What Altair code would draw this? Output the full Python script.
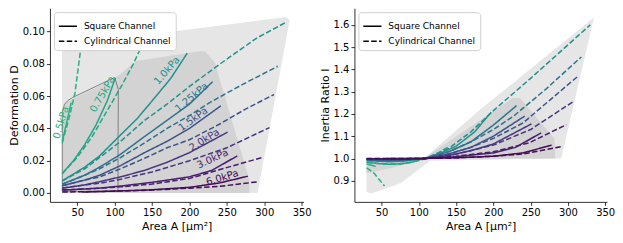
import altair as alt
import pandas as pd

# ---------------- data ----------------
PRESSURES = ["0.5kPa", "0.75kPa", "1.0kPa", "1.25kPa", "1.5kPa", "2.0kPa", "3.0kPa", "6.0kPa"]
COLORS = ["#2bb07f", "#22a785", "#21918c", "#2c728e", "#3b538b", "#463580", "#481d6f", "#440b56"]
CHANNELS = ["Square Channel", "Cylindrical Channel"]

# Square channel (solid): area A, deformation D, inertia ratio I
SQ_A = [
    [30, 34, 38, 42],
    [30, 45, 60, 75, 90, 101],
    [30, 60, 80, 108, 130, 150, 175, 197],
    [30, 60, 80, 108, 140, 170, 200, 231],
    [30, 60, 80, 108, 140, 170, 200, 242],
    [30, 60, 80, 108, 140, 170, 200, 251],
    [30, 60, 80, 108, 150, 200, 230, 264],
    [57, 80, 108, 150, 200, 240, 278],
]
SQ_D = [
    [0.032, 0.040, 0.048, 0.056],
    [0.012, 0.020, 0.030, 0.042, 0.057, 0.0714],
    [0.0075, 0.016, 0.023, 0.036, 0.046, 0.057, 0.071, 0.0866],
    [0.0055, 0.011, 0.016, 0.024, 0.035, 0.045, 0.055, 0.069],
    [0.0045, 0.008, 0.011, 0.017, 0.025, 0.032, 0.040, 0.054],
    [0.003, 0.005, 0.007, 0.010, 0.014, 0.019, 0.025, 0.0377],
    [0.0018, 0.0025, 0.003, 0.0043, 0.0066, 0.0100, 0.014, 0.023],
    [0.0006, 0.0009, 0.0013, 0.002, 0.0035, 0.0062, 0.0104],
]
SQ_I = [
    [0.975, 0.972, 0.968, 0.964],
    [0.983, 0.977, 0.974, 0.975, 0.983, 0.993],
    [0.990, 0.985, 0.988, 1.0, 1.025, 1.055, 1.12, 1.208],
    [0.993, 0.990, 0.992, 1.0, 1.03, 1.075, 1.15, 1.237],
    [0.995, 0.993, 0.995, 1.0, 1.02, 1.05, 1.10, 1.19],
    [0.997, 0.996, 0.997, 1.0, 1.013, 1.035, 1.065, 1.155],
    [0.999, 0.998, 0.999, 1.0, 1.008, 1.025, 1.05, 1.115],
    [1.0, 1.0, 1.0, 1.003, 1.01, 1.025, 1.06],
]

# Cylindrical channel (dashed)
CYL_A = [
    [30, 40, 47, 54],
    [30, 50, 70, 90, 110, 125, 140],
    [30, 60, 80, 108, 140, 170, 200, 250, 290, 330],
    [30, 60, 80, 108, 140, 170, 200, 227, 270, 318],
    [30, 60, 80, 108, 140, 170, 200, 240, 275, 313],
    [30, 60, 80, 108, 150, 200, 250, 307],
    [30, 60, 80, 108, 150, 200, 248, 298],
    [30, 60, 108, 150, 200, 240, 291],
]
CYL_D = [
    [0.031, 0.048, 0.062, 0.087],
    [0.012, 0.022, 0.035, 0.051, 0.067, 0.080, 0.095],
    [0.0075, 0.015, 0.022, 0.032, 0.045, 0.055, 0.066, 0.083, 0.096, 0.106],
    [0.0055, 0.011, 0.015, 0.022, 0.031, 0.040, 0.048, 0.056, 0.067, 0.0785],
    [0.0045, 0.008, 0.010, 0.015, 0.0215, 0.028, 0.033, 0.0426, 0.052, 0.061],
    [0.003, 0.005, 0.006, 0.0085, 0.013, 0.020, 0.028, 0.0405],
    [0.0018, 0.0025, 0.003, 0.0038, 0.0055, 0.009, 0.0155, 0.0221],
    [0.0006, 0.0008, 0.0012, 0.0018, 0.003, 0.0041, 0.0069],
]
CYL_I = [
    [0.958, 0.933, 0.904, 0.876],
    [0.983, 0.976, 0.975, 0.983, 1.0, 1.022, 1.053],
    [0.993, 0.990, 0.990, 1.0, 1.045, 1.12, 1.215, 1.36, 1.48, 1.60],
    [0.995, 0.993, 0.993, 1.0, 1.03, 1.075, 1.13, 1.19, 1.31, 1.456],
    [0.997, 0.995, 0.995, 1.0, 1.02, 1.05, 1.09, 1.16, 1.26, 1.368],
    [0.998, 0.997, 0.997, 1.0, 1.02, 1.06, 1.13, 1.255],
    [0.999, 0.998, 0.999, 1.0, 1.01, 1.03, 1.07, 1.152],
    [1.0, 1.0, 1.0, 1.003, 1.01, 1.02, 1.053],
]

# shaded regions (left panel: A vs D)
LEFT_LIGHT_A = [29.6, 29.6, 31, 34.5, 330, 334, 291, 29.6]
LEFT_LIGHT_D = [0.0, 0.0866, 0.0905, 0.0915, 0.109, 0.107, 0.0, 0.0]
LEFT_DARK_A = [29.6, 29.6, 35, 45, 100, 129, 216, 221, 234, 280, 280]
LEFT_DARK_D = [0.0, 0.050, 0.056, 0.0585, 0.071, 0.0817, 0.088, 0.0878, 0.0807, 0.0084, 0.0]
OUTLINE_A = [30, 30, 33, 37.5, 44, 100, 105, 104.5, 104.5, 30]
OUTLINE_D = [0.001, 0.050, 0.055, 0.0573, 0.0592, 0.0716, 0.064, 0.030, 0.001, 0.001]

# shaded regions (right panel: A vs I)
RIGHT_LIGHT_A = [29.7, 108, 181, 335, 291, 115, 76, 36, 29.7]
RIGHT_LIGHT_I = [1.003, 1.003, 1.216, 1.633, 1.0, 0.99, 0.89, 0.843, 0.851]
RIGHT_DARK_A = [29.7, 108, 226, 236, 282, 283, 110, 102, 60, 29.7]
RIGHT_DARK_I = [1.003, 1.003, 1.272, 1.27, 1.088, 1.0, 0.998, 0.989, 0.955, 0.933]

# in-line pressure labels (left panel)
LABEL_A = [28.5, 84, 170, 203, 205, 220, 231, 244]
LABEL_D = [0.0436, 0.0612, 0.0758, 0.0592, 0.0456, 0.0328, 0.0211, 0.0094]
LABEL_ANGLE = [287, 300, 311, 320, 324, 328, 335, 343]

X_TICKS = [50, 100, 150, 200, 250, 300, 350]
D_TICKS = [0.0, 0.02, 0.04, 0.06, 0.08, 0.10]
I_TICKS = [0.9, 1.0, 1.1, 1.2, 1.3, 1.4, 1.5, 1.6]

# ---------------- tables ----------------
rows = []
for k, p in enumerate(PRESSURES):
    for ch, As, Ds, Is in [(CHANNELS[0], SQ_A[k], SQ_D[k], SQ_I[k]),
                           (CHANNELS[1], CYL_A[k], CYL_D[k], CYL_I[k])]:
        for j, (a, d, i) in enumerate(zip(As, Ds, Is)):
            rows.append(dict(pressure=p, channel=ch, A=a, D=d, I=i, idx=j, key=p + "|" + ch))
curves = pd.DataFrame(rows)


def poly(As, Ys, col):
    return pd.DataFrame({"A": As, col: Ys, "idx": list(range(len(As)))})


left_light = poly(LEFT_LIGHT_A, LEFT_LIGHT_D, "D")
left_dark = poly(LEFT_DARK_A, LEFT_DARK_D, "D")
outline = poly(OUTLINE_A, OUTLINE_D, "D")
right_light = poly(RIGHT_LIGHT_A, RIGHT_LIGHT_I, "I")
right_dark = poly(RIGHT_DARK_A, RIGHT_DARK_I, "I")
labels = pd.DataFrame({"A": LABEL_A, "D": LABEL_D, "angle": LABEL_ANGLE,
                       "pressure": PRESSURES, "text": PRESSURES})

FONT = "DejaVu Sans"
xscale = alt.Scale(domain=[13.5, 352.5], nice=False, zero=False)
xaxis = alt.Axis(values=X_TICKS, title="Area A [µm²]")
X = alt.X("A:Q", scale=xscale, axis=xaxis)
YD = alt.Y("D:Q", scale=alt.Scale(domain=[-0.0055, 0.1145], nice=False, zero=False),
           axis=alt.Axis(values=D_TICKS, format=".2f", title="Deformation D"))
YI = alt.Y("I:Q", scale=alt.Scale(domain=[0.805, 1.675], nice=False, zero=False),
           axis=alt.Axis(values=I_TICKS, format=".1f", title="Inertia Ratio I"))
COLOR = alt.Color("pressure:N", scale=alt.Scale(domain=PRESSURES, range=COLORS), legend=None)


def dash():
    return alt.StrokeDash(
        "channel:N",
        scale=alt.Scale(domain=CHANNELS, range=[[1, 0], [5.5, 2.4]]),
        legend=alt.Legend(title=None, orient="top-left", offset=4, symbolType="stroke",
                          symbolStrokeColor="black", symbolStrokeWidth=1.5, symbolSize=330,
                          labelFontSize=9, labelFont=FONT, labelColor="black",
                          fillColor="white", strokeColor="#d0d0d0", padding=4,
                          cornerRadius=3, rowPadding=-4, labelOffset=6, labelLimit=300),
    )


def shape(df, Y, fill):
    return alt.Chart(df).mark_line(fill=fill, strokeOpacity=0, clip=True).encode(
        x=X, y=Y, order="idx:Q")


W1, W2, H = 254, 253, 194

left = alt.layer(
    shape(left_light, YD, "#e6e6e6"),
    shape(left_dark, YD, "#d3d3d3"),
    alt.Chart(outline).mark_line(color="#808080", strokeWidth=1, clip=True).encode(
        x=X, y=YD, order="idx:Q"),
    alt.Chart(curves).mark_line(strokeWidth=1.5, clip=True).encode(
        x=X, y=YD, color=COLOR, strokeDash=dash(), detail="key:N", order="idx:Q"),
    alt.Chart(labels).mark_text(font=FONT, fontSize=10, align="center", baseline="middle").encode(
        x=X, y=YD, text="text:N", color=COLOR, angle=alt.Angle("angle:Q", scale=None)),
).properties(width=W1, height=H)

right = alt.layer(
    shape(right_light, YI, "#e6e6e6"),
    shape(right_dark, YI, "#d3d3d3"),
    alt.Chart(curves).mark_line(strokeWidth=1.5, clip=True).encode(
        x=X, y=YI, color=COLOR, strokeDash=dash(), detail="key:N", order="idx:Q"),
).properties(width=W2, height=H)

chart = alt.hconcat(left, right, spacing=51, bounds="flush").resolve_scale(
    strokeDash="independent", color="independent"
).resolve_legend(strokeDash="independent").properties(
    padding={"left": 0, "top": 0, "right": 0, "bottom": 0}
).configure_view(stroke=None).configure_axis(
    grid=False, domainColor="black", domainWidth=0.8, tickColor="black", tickWidth=0.8,
    tickSize=3.5, labelFont=FONT, labelFontSize=10, labelColor="black", labelPadding=2,
    titleFont=FONT, titleFontSize=11, titleFontWeight="normal", titleColor="black",
    titlePadding=3,
)

chart.save("out.html", embed_options={"renderer": "svg", "actions": False})
